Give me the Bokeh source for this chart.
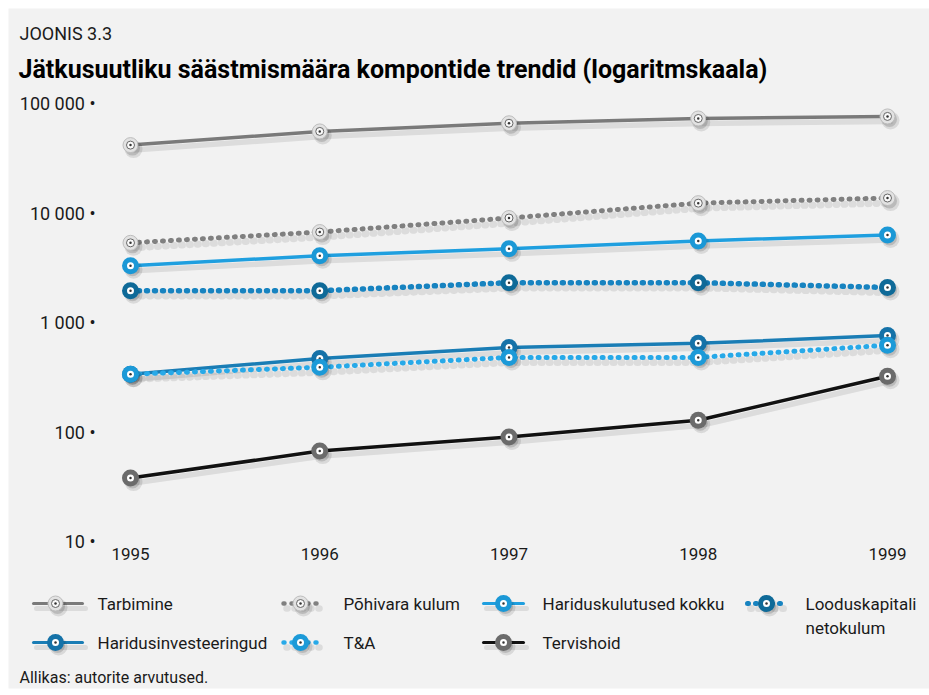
from bokeh.plotting import figure
from bokeh.models import Range1d
from bokeh.core.properties import value
from bokeh.embed import file_html
from bokeh.resources import INLINE

# ---------------- data ----------------
years = [1995, 1996, 1997, 1998, 1999]
tarbimine = [41700, 55600, 66000, 73000, 76200]
pohivara_kulum = [5340, 6700, 9000, 12300, 13700]
hariduskulutused_kokku = [3300, 4070, 4710, 5560, 6300]
looduskapitali_netokulum = [1950, 1950, 2310, 2310, 2090]
haridusinvesteeringud = [337, 470, 590, 645, 760]
ta = [337, 390, 480, 480, 620]
tervishoid = [38, 67, 90, 128, 323]

y_ticks = [10, 100, 1000, 10000, 100000]
y_tick_labels = ["10", "100", "1 000", "10 000", "100 000"]
x_tick_labels = ["1995", "1996", "1997", "1998", "1999"]

# ---------------- layout ----------------
W, H = 929, 695
FL, FT, FR, FB = 8, 8, 929, 688      # gray panel in page pixels
X0_PAGE, X1_PAGE = 130, 887          # 1995, 1999
YTOP_PAGE, YBOT_PAGE = 103, 541      # 100000, 10
PPX = (X1_PAGE - X0_PAGE) / (years[-1] - years[0])
PPY = (YBOT_PAGE - YTOP_PAGE) / 4.0

def px_x(page_x):
    return years[0] + (page_x - X0_PAGE) / PPX

def px_y(page_y):
    return 10 ** (5 - (page_y - YTOP_PAGE) / PPY)

def shift_x(xs, dx):
    return [x + dx / PPX for x in xs]

def shift_y(ys, dy):
    return [y * 10 ** (-dy / PPY) for y in ys]

FONT = value("Roboto")
BG = "#f2f2f2"

p = figure(width=W, height=H, output_backend="svg", toolbar_location=None,
           x_range=Range1d(px_x(FL), px_x(FR)),
           y_range=Range1d(px_y(FB), px_y(FT)),
           y_axis_type="log", min_border=0,
           min_border_left=FL, min_border_right=W - FR, min_border_top=FT,
           min_border_bottom=H - FB,
           background_fill_color=BG, border_fill_color="#ffffff")
p.axis.visible = False
p.grid.visible = False
p.outline_line_color = None

series = [
    dict(name=["Tarbimine"], vals=tarbimine, color="#7a7a7a", dash="solid", width=3.5,
         mk="gray"),
    dict(name=["Põhivara kulum"], vals=pohivara_kulum, color="#808080", dash="1 7", width=5,
         mk="gray"),
    dict(name=["Hariduskulutused kokku"], vals=hariduskulutused_kokku, color="#1f9fdf",
         dash="solid", width=3.5, mk="#1b98d6"),
    dict(name=["Looduskapitali", "netokulum"], vals=looduskapitali_netokulum, color="#1783c0",
         dash="1 7", width=5.5, mk="#0f6a98"),
    dict(name=["Haridusinvesteeringud"], vals=haridusinvesteeringud, color="#1a7db5",
         dash="solid", width=3.5, mk="#1572a8"),
    dict(name=["T&A"], vals=ta, color="#27a9e8", dash="1 7", width=5, mk="#1c9ad8"),
    dict(name=["Tervishoid"], vals=tervishoid, color="#111111", dash="solid", width=3.5,
         mk="#6b6b6b"),
]

def draw_line(xs, ys, s):
    p.line(shift_x(xs, 3), shift_y(ys, 5), line_color="#000000", line_alpha=0.09,
           line_width=s["width"] + 2, line_dash=s["dash"], line_cap="round")
    p.line(xs, ys, line_color=s["color"], line_width=s["width"], line_dash=s["dash"],
           line_cap="round")

def draw_markers(xs, ys, s):
    p.scatter(shift_x(xs, 3), shift_y(ys, 4), size=18, fill_color="#000000",
              fill_alpha=0.10, line_color=None)
    p.scatter(shift_x(xs, 2), shift_y(ys, 3), size=15, fill_color="#000000",
              fill_alpha=0.14, line_color=None)
    if s["mk"] == "gray":
        p.scatter(xs, ys, size=15, fill_color="#e2e2e2", line_color="#bdbdbd", line_width=1)
        p.scatter(xs, ys, size=8, fill_color="#f9f9f9", line_color="#666666", line_width=1)
        p.scatter(xs, ys, size=2.5, fill_color="#333333", line_color=None)
    else:
        p.scatter(xs, ys, size=17, fill_color=s["mk"], line_color=None)
        p.scatter(xs, ys, size=7, fill_color="#ffffff", line_color=None)
        p.scatter(xs, ys, size=2.5, fill_color="#333333", line_color=None)

for s in series:
    draw_line(years, s["vals"], s)
for s in series:
    draw_markers(years, s["vals"], s)

TXT = "#1a1a1a"
# ---------------- axis texts ----------------
p.text(x=[px_x(95)] * len(y_ticks), y=y_ticks,
       text=[t + " •" for t in y_tick_labels], text_align="right", text_baseline="middle",
       text_font=FONT, text_font_size="18px", text_color=TXT)
p.text(x=years, y=[px_y(553)] * len(years), text=x_tick_labels, text_align="center",
       text_baseline="middle", text_font=FONT, text_font_size="17px", text_color=TXT)

# ---------------- titles ----------------
p.text(x=[px_x(19)], y=[px_y(33)], text=["JOONIS 3.3"], text_align="left",
       text_baseline="middle", text_font=FONT, text_font_size="18px", text_color=TXT)
p.text(x=[px_x(18)], y=[px_y(69)],
       text=["Jätkusuutliku säästmismäära kompontide trendid (logaritmskaala)"],
       text_align="left", text_baseline="middle", text_font=FONT, text_font_size="25px",
       text_font_style="bold", text_color="#000000")

# ---------------- legend ----------------
cols = [(33, 82, 55, 97), (283, 320, 300, 343), (483, 523, 503, 542), (747, 787, 766, 805)]
rows = [603, 642]
slots = [(0, 0), (0, 1), (0, 2), (0, 3), (1, 0), (1, 1), (1, 2)]
for s, (r, c) in zip(series, slots):
    x_a, x_b, x_m, x_t = cols[c]
    yy = px_y(rows[r])
    ls = dict(s)
    ls["width"] = s["width"] - 0.5
    draw_line([px_x(x_a), px_x(x_b)], [yy, yy], ls)
    draw_markers([px_x(x_m)], [yy], s)
    for i, line in enumerate(s["name"]):
        p.text(x=[px_x(x_t)], y=[px_y(rows[r] + i * 24)], text=[line], text_align="left",
               text_baseline="middle", text_font=FONT, text_font_size="17px",
               text_color=TXT)

p.text(x=[px_x(19)], y=[px_y(677)], text=["Allikas: autorite arvutused."], text_align="left",
       text_baseline="middle", text_font=FONT, text_font_size="16px", text_color=TXT)

open("out.html", "w").write(file_html(p, INLINE))
